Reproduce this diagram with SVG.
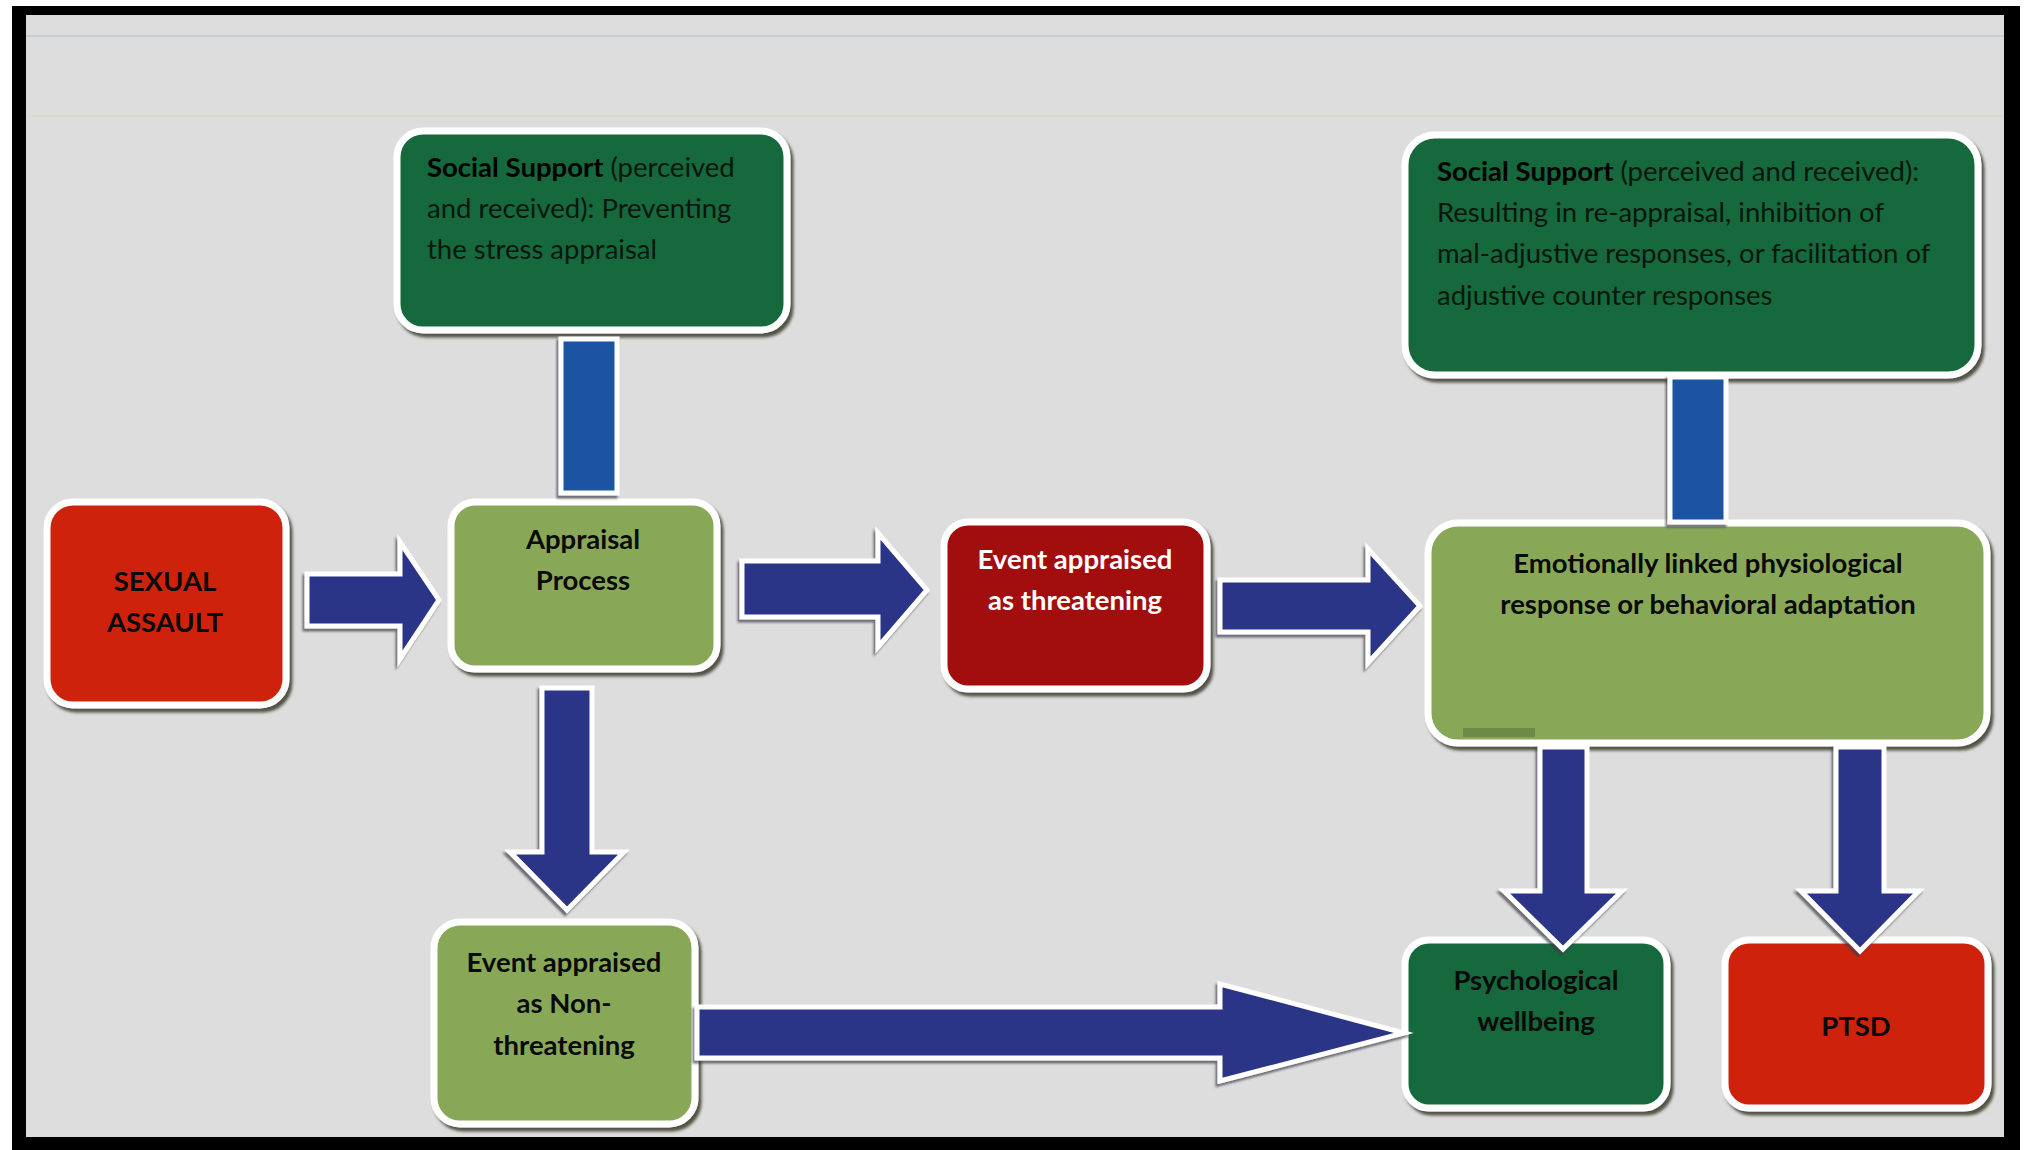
<svg xmlns="http://www.w3.org/2000/svg" width="2024" height="1150" viewBox="0 0 2024 1150">
<defs>
<style>
.box{stroke:#ffffff;stroke-width:7;filter:url(#sh);}
.dg{fill:#19683d;}
.lg{fill:#88a858;}
.rd{fill:#cf2410;}
.dr{fill:#a20c0c;}
.lbl{font-family:Lato,"Liberation Sans",sans-serif;font-weight:bold;font-size:27.5px;fill:#0a0a0a;text-anchor:middle;}
.wt{fill:#ffffff;}
.ss{font-family:Lato,"Liberation Sans",sans-serif;font-size:27.5px;fill:#07170d;}
.ss tspan.b{font-weight:bold;fill:#000000;}
.arr{fill:#2c3587;stroke:#ffffff;stroke-width:5;stroke-linejoin:miter;filter:url(#ash);}
.bar{fill:#1b52a3;stroke:#ffffff;stroke-width:5;filter:url(#ash);}
</style>
<filter id="sh" x="-10%" y="-10%" width="125%" height="125%">
<feDropShadow dx="3" dy="4" stdDeviation="1.5" flood-color="#3b3b2c" flood-opacity="0.85"/>
</filter>
<filter id="ash" x="-10%" y="-10%" width="125%" height="125%">
<feDropShadow dx="-2" dy="3" stdDeviation="1" flood-color="#3a3a48" flood-opacity="0.7"/>
</filter>
</defs>
<rect x="0" y="0" width="2024" height="1150" fill="#ffffff"/>
<rect x="12" y="6" width="2008" height="1144" fill="#000000"/>
<rect x="26" y="15" width="1978" height="1122" fill="#dddddd"/>
<line x1="26" y1="36" x2="2004" y2="36" stroke="#c6d0d8" stroke-width="2"/>
<line x1="26" y1="116" x2="2004" y2="116" stroke="#d8d8bc" stroke-width="1.5"/>

<g id="node-social-support-left">
<rect class="box dg" x="397" y="131" width="390" height="199" rx="26"/>
<text class="ss" x="427" y="177"><tspan class="b">Social Support</tspan> (perceived</text>
<text class="ss" x="427" y="218">and received): Preventing</text>
<text class="ss" x="427" y="259">the stress appraisal</text>
</g>
<g id="node-social-support-right">
<rect class="box dg" x="1405" y="135" width="573" height="240" rx="30"/>
<text class="ss" x="1437" y="181"><tspan class="b">Social Support</tspan> (perceived and received):</text>
<text class="ss" x="1437" y="222">Resulting in re-appraisal, inhibition of</text>
<text class="ss" x="1437" y="263">mal-adjustive responses, or facilitation of</text>
<text class="ss" x="1437" y="305">adjustive counter responses</text>
</g>
<g id="node-sexual-assault">
<rect class="box rd" x="47" y="502" width="239" height="203" rx="26"/>
<text class="lbl" x="165" y="591">SEXUAL</text>
<text class="lbl" x="165" y="632">ASSAULT</text>
</g>
<g id="node-appraisal-process">
<rect class="box lg" x="451" y="502" width="266" height="167" rx="24"/>
<text class="lbl" x="583" y="549">Appraisal</text>
<text class="lbl" x="583" y="590">Process</text>
</g>
<g id="node-event-threatening">
<rect class="box dr" x="944" y="522" width="263" height="167" rx="24"/>
<text class="lbl wt" x="1075" y="569">Event appraised</text>
<text class="lbl wt" x="1075" y="610">as threatening</text>
</g>
<g id="node-emotionally-linked">
<rect class="box lg" x="1428" y="523" width="559" height="220" rx="30"/>
<rect x="1463" y="728" width="72" height="9" fill="#6f8a44"/>
<text class="lbl" x="1708" y="573">Emotionally linked physiological</text>
<text class="lbl" x="1708" y="614">response or behavioral adaptation</text>
</g>
<g id="node-event-nonthreatening">
<rect class="box lg" x="434" y="922" width="261" height="202" rx="26"/>
<text class="lbl" x="564" y="972">Event appraised</text>
<text class="lbl" x="564" y="1013">as Non-</text>
<text class="lbl" x="564" y="1055">threatening</text>
</g>
<g id="node-psychological-wellbeing">
<rect class="box dg" x="1405" y="940" width="262" height="168" rx="24"/>
<text class="lbl" x="1536" y="990">Psychological</text>
<text class="lbl" x="1536" y="1031">wellbeing</text>
</g>
<g id="node-ptsd">
<rect class="box rd" x="1725" y="940" width="263" height="168" rx="24"/>
<text class="lbl" x="1856" y="1036">PTSD</text>
</g>

<g id="connectors">
<rect class="bar" x="561" y="339" width="56" height="154"/>
<rect class="bar" x="1670" y="377" width="56" height="145"/>
<path class="arr" d="M307,574 H400 V542 L439,600 L400,659 V626 H307 Z"/>
<path class="arr" d="M742,561 H878 V533 L927,590 L878,647 V617 H742 Z"/>
<path class="arr" d="M1220,580 H1368 V549 L1420,606 L1368,663 V632 H1220 Z"/>
<path class="arr" d="M542,688 V852 H510 L567,910 L624,852 H592 V688 Z"/>
<path class="arr" d="M697,1007 H1220 V984 L1404,1033 L1220,1081 V1058 H697 Z"/>
<path class="arr" d="M1540,747 V891 H1504 L1563,949 L1622,891 H1587 V747 Z"/>
<path class="arr" d="M1836,747 V891 H1801 L1860,951 L1919,891 H1884 V747 Z"/>
</g>
</svg>
